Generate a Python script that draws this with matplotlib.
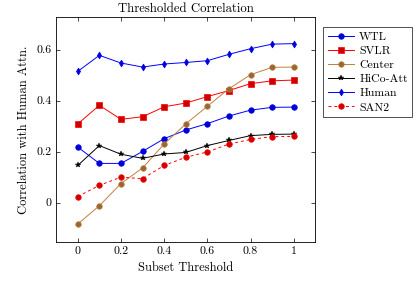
import numpy as np
import matplotlib
matplotlib.use('Agg')
import matplotlib.pyplot as plt

plt.rcParams['font.family'] = ['cmr10', 'DejaVu Serif']
plt.rcParams['axes.formatter.use_mathtext'] = True
plt.rcParams['mathtext.fontset'] = 'cm'

thresholds = [0, 0.1, 0.2, 0.3, 0.4, 0.5, 0.6, 0.7, 0.8, 0.9, 1.0]
wtl = [0.218, 0.154, 0.154, 0.201, 0.251, 0.285, 0.310, 0.340, 0.363, 0.374, 0.375]
svlr = [0.309, 0.382, 0.327, 0.337, 0.376, 0.391, 0.416, 0.440, 0.467, 0.478, 0.481]
center = [-0.084, -0.012, 0.075, 0.136, 0.230, 0.309, 0.378, 0.447, 0.502, 0.531, 0.532]
hico = [0.146, 0.224, 0.190, 0.174, 0.191, 0.197, 0.224, 0.244, 0.263, 0.268, 0.269]
human = [0.515, 0.578, 0.548, 0.532, 0.544, 0.550, 0.557, 0.582, 0.604, 0.622, 0.624]
san2 = [0.024, 0.068, 0.100, 0.094, 0.146, 0.178, 0.199, 0.230, 0.248, 0.259, 0.260]

blue_fill = (0, 0, 0.8)
red_fill = (0.8, 0, 0)
brown = (0.75, 0.5, 0.25)
brown_fill = (0.6, 0.4, 0.2)

fig = plt.figure(figsize=(4.16, 2.81), dpi=100)
ax = fig.add_axes([0.135, 0.14, 0.623, 0.80])

lw = 0.7
ax.plot(thresholds, wtl, color='blue', lw=lw, marker='o', ms=4,
        mfc=blue_fill, mec='blue', mew=0.5, label='WTL')
ax.plot(thresholds, svlr, color='red', lw=lw, marker='s', ms=3.8,
        mfc=red_fill, mec='red', mew=0.5, label='SVLR')
ax.plot(thresholds, center, color=brown, lw=lw, marker='o', ms=4,
        mfc=brown_fill, mec=brown, mew=0.5, label='Center')
ax.plot(thresholds, hico, color='black', lw=lw, marker='*', ms=4,
        mfc='black', mec='black', mew=0.3, label='HiCo-Att')
ax.plot(thresholds, human, color='blue', lw=lw, marker='d', ms=3.5,
        mfc=blue_fill, mec='blue', mew=0.5, label='Human')
ax.plot(thresholds, san2, color='red', lw=lw, ls=(0, (3, 3)), marker='o', ms=4,
        mfc=red_fill, mec='red', mew=0.5, label='SAN2')

ax.set_xlim(-0.1, 1.1)
ax.set_ylim(-0.153, 0.729)
ax.set_xticks([0, 0.2, 0.4, 0.6, 0.8, 1])
ax.set_xticklabels(['0', '0.2', '0.4', '0.6', '0.8', '1'])
ax.set_yticks([0, 0.2, 0.4, 0.6])
ax.set_yticklabels(['0', '0.2', '0.4', '0.6'])
ax.tick_params(direction='in', top=True, right=True, labelsize=8.5, length=3, width=0.5)
for s in ax.spines.values():
    s.set_linewidth(0.6)

ax.set_title('Thresholded Correlation', fontsize=9.2, pad=3.5)
ax.set_xlabel('Subset Threshold', fontsize=9)
ax.set_ylabel('Correlation with Human Attn.', fontsize=9)

leg = ax.legend(loc='upper left', bbox_to_anchor=(1.03, 0.956), borderaxespad=0,
                fontsize=8.5, frameon=True, fancybox=False, edgecolor='black',
                handlelength=2.2, labelspacing=0.33, borderpad=0.4, handletextpad=0.45)
leg.get_frame().set_linewidth(0.6)

fig.savefig('out.png', dpi=100)
